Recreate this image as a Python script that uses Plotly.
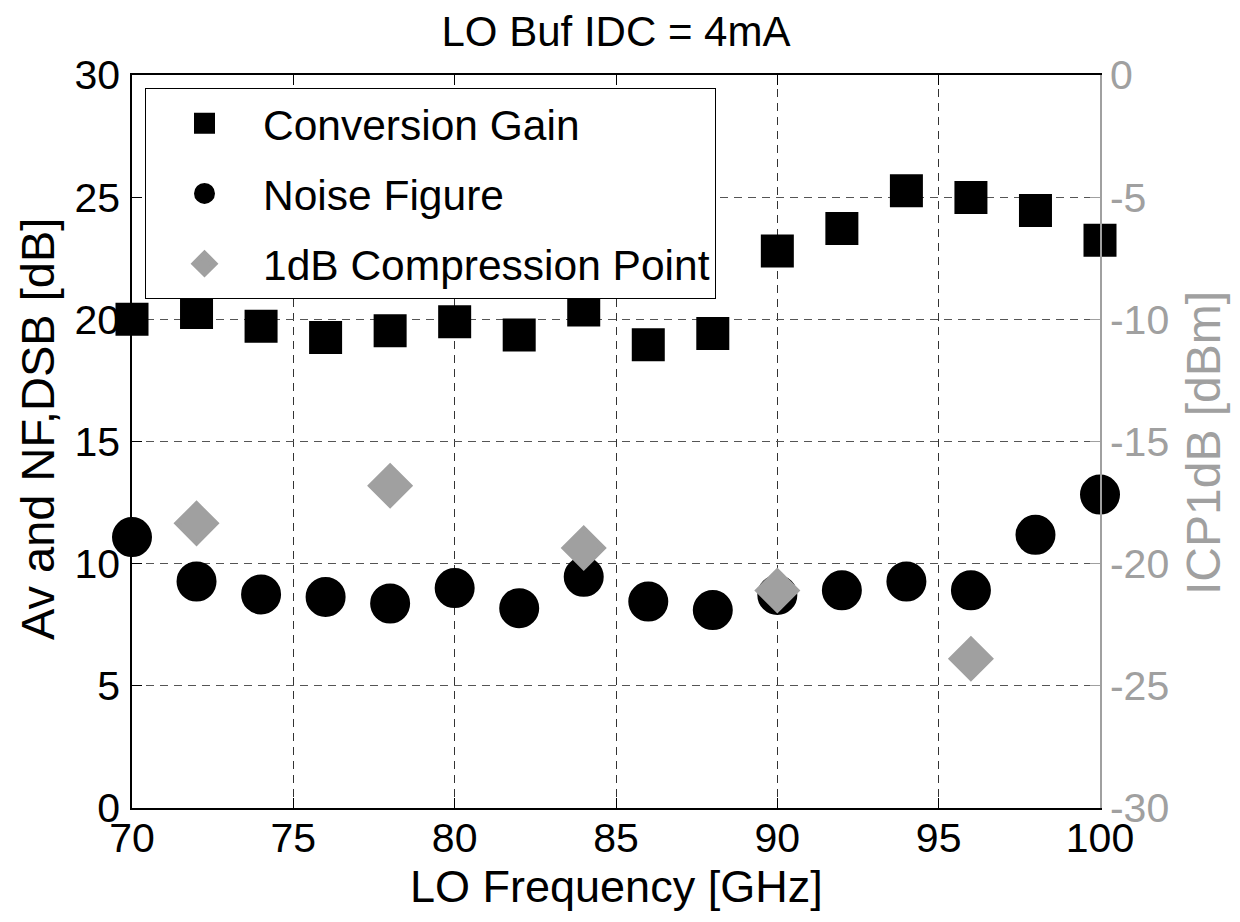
import plotly.graph_objects as go

# ---- data ----
freq = [70, 72, 74, 76, 78, 80, 82, 84, 86, 88, 90, 92, 94, 96, 98, 100]
conv_gain = [20.0, 20.28, 19.72, 19.26, 19.53, 19.9, 19.36, 20.38,
             18.96, 19.42, 22.8, 23.72, 25.26, 24.99, 24.45, 23.24]
noise_fig = [11.09, 9.27, 8.74, 8.64, 8.37, 9.0, 8.18, 9.46,
             8.45, 8.1, 8.72, 8.91, 9.27, 8.91, 11.18, 12.83]
icp_freq = [72, 78, 84, 90, 96]
icp1db = [-18.35, -16.81, -19.36, -21.1, -23.89]

x_ticks = [70, 75, 80, 85, 90, 95, 100]
y_ticks = [0, 5, 10, 15, 20, 25, 30]
y2_ticks = [-30, -25, -20, -15, -10, -5, 0]

FONT = "Liberation Sans, Arial, Helvetica, sans-serif"
GRAY = "#a0a0a0"
TICKFS = 41

# page body has an 8px default margin; plot area target: x 132..1100, y 75..808 on screen
W, H = 1232, 914
ML, MT, MR, MB = 124, 67, 140, 114
PX0, PY0, PW, PH = 132, 808, 968, 733  # screen px of plot area origin (bottom-left) & size


def px(xs):
    return (xs - PX0) / PW


def py(ys):
    return (PY0 - ys) / PH


fig = go.Figure()
fig.add_trace(go.Scatter(
    x=freq, y=conv_gain, mode="markers", name="Conversion Gain",
    legendgroup="a", cliponaxis=False,
    marker=dict(symbol="square", size=28, color="black",
                line=dict(width=5, color="black"))))
fig.add_trace(go.Scatter(
    x=freq, y=noise_fig, mode="markers", name="Noise Figure",
    legendgroup="b", cliponaxis=False,
    marker=dict(symbol="circle", size=35, color="black",
                line=dict(width=5, color="black"))))
fig.add_trace(go.Scatter(
    x=icp_freq, y=icp1db, mode="markers", name="1dB Compression Point",
    legendgroup="c", cliponaxis=False, yaxis="y2",
    marker=dict(symbol="diamond", size=30, color=GRAY,
                line=dict(width=5, color=GRAY))))

fig.update_layout(
    width=W, height=H,
    margin=dict(l=ML, r=MR, t=MT, b=MB),
    paper_bgcolor="white", plot_bgcolor="white",
    font=dict(family=FONT, color="black", size=TICKFS),
    title=dict(text="LO Buf IDC = 4mA", font=dict(size=42, family=FONT, color="black"),
               x=0.5, xref="paper", xanchor="center",
               y=1 - 23 / H, yref="container", yanchor="middle"),
    xaxis=dict(range=[70, 100], tickvals=x_ticks, ticktext=[str(v) for v in x_ticks],
               ticks="inside", ticklen=10, tickcolor="black", tickwidth=1,
               showline=True, linecolor="black", linewidth=1.5, mirror="ticks",
               showgrid=True, gridcolor="#333333", griddash="8px,6px", gridwidth=1,
               zeroline=False, tickfont=dict(size=TICKFS, color="black"),
               ticklabelstandoff=-7),
    yaxis=dict(range=[0, 30], tickvals=y_ticks, ticktext=[str(v) for v in y_ticks],
               ticks="inside", ticklen=10, tickcolor="black", tickwidth=1,
               showline=True, linecolor="black", linewidth=1.5,
               showgrid=True, gridcolor="#555555", griddash="8px,6px", gridwidth=1,
               zeroline=False, tickfont=dict(size=TICKFS, color="black"),
               ticklabelstandoff=2),
    yaxis2=dict(range=[-30, 0], tickvals=y2_ticks, ticktext=[str(v) for v in y2_ticks],
                overlaying="y", side="right",
                ticks="inside", ticklen=10, tickcolor=GRAY, tickwidth=1,
                showline=True, linecolor=GRAY, linewidth=1.5,
                showgrid=False, zeroline=False,
                tickfont=dict(size=TICKFS, color=GRAY), ticklabelstandoff=0),
    legend=dict(x=px(145), y=py(88), xanchor="left", yanchor="top",
                bgcolor="white", bordercolor="black", borderwidth=1,
                font=dict(size=42.5, family=FONT, color="black"),
                itemwidth=107, traceorder="grouped", tracegroupgap=12),
    showlegend=True,
)

fig.add_annotation(text="LO Frequency [GHz]", xref="paper", yref="paper",
                   x=0.5, y=py(886), xanchor="center", yanchor="middle",
                   showarrow=False, font=dict(size=45, family=FONT, color="black"))
fig.add_annotation(text="Av and NF,DSB [dB]", xref="paper", yref="paper",
                   x=px(37), y=py(429), xanchor="center", yanchor="middle",
                   textangle=-90, showarrow=False,
                   font=dict(size=47, family=FONT, color="black"))
fig.add_annotation(text="ICP1dB [dBm]", xref="paper", yref="paper",
                   x=px(1204), y=py(443), xanchor="center", yanchor="middle",
                   textangle=-90, showarrow=False,
                   font=dict(size=48, family=FONT, color=GRAY))

fig.write_html("out.html")
